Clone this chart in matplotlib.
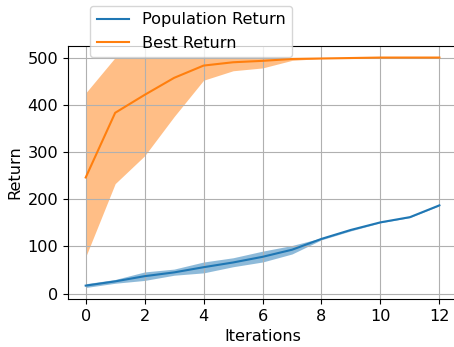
import matplotlib
matplotlib.use("Agg")
import matplotlib.pyplot as plt
import numpy as np

iterations = [0, 1, 2, 3, 4, 5, 6, 7, 8, 9, 10, 11, 12]

pop_mean = [17, 26, 37, 45, 56, 66, 78, 93, 116, 135, 151, 162, 187]
pop_low = [13, 22, 28, 39, 44, 57, 67, 84, 114, 133, 150, 161, 186]
pop_high = [21, 30, 46, 52, 67, 76, 90, 102, 118, 137, 152, 163, 188]

best_mean = [246, 383, 421, 457, 483, 490, 493, 497, 498, 499, 500, 500, 500]
best_low = [78, 233, 292, 375, 452, 472, 478, 494, 498, 499, 500, 500, 500]
best_high = [425, 500, 500, 500, 500, 500, 500, 500, 500, 500, 500, 500, 500]

plt.rcParams['font.size'] = 11.6

fig = plt.figure(figsize=(4.54, 3.47), dpi=100)
ax = fig.add_axes([0.1498, 0.1383, 0.857, 0.729])

ax.plot(iterations, pop_mean, color='C0', label='Population Return')
ax.fill_between(iterations, pop_low, pop_high, color='C0', alpha=0.5, linewidth=0)
ax.plot(iterations, best_mean, color='C1', label='Best Return')
ax.fill_between(iterations, best_low, best_high, color='C1', alpha=0.5, linewidth=0)

ax.set_xlabel('Iterations')
ax.set_ylabel('Return')
ax.set_xticks([0, 2, 4, 6, 8, 10, 12])
ax.grid(True)
ax.spines['right'].set_visible(False)

fig.legend(loc='upper left', bbox_to_anchor=(82 / 454, 1 + 2 / 347))

fig.savefig('out.png', dpi=100)
